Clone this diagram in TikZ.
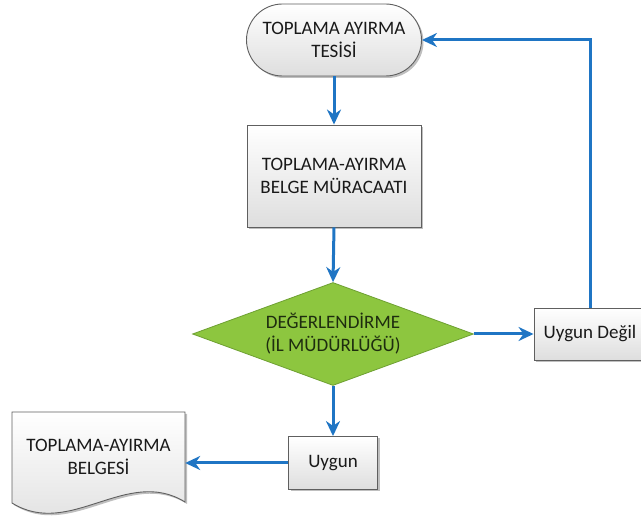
\documentclass[tikz,border=0pt]{standalone}
\usepackage{fontspec}
\setmainfont{Carlito}
\usetikzlibrary{shapes.geometric,shadows,arrows.meta}
\definecolor{flowblue}{RGB}{31,117,196}
\definecolor{dgreen}{RGB}{141,198,63}
\definecolor{dgreenline}{RGB}{110,160,50}
\definecolor{txt}{RGB}{25,25,25}
\definecolor{gtxt}{RGB}{30,45,15}
\definecolor{edge}{RGB}{95,95,95}
\tikzset{
 lbl/.style={align=center, text=txt, font=\fontsize{19}{23}\selectfont, inner sep=0pt},
 box/.style={lbl, draw=edge, line width=0.9pt, top color=white, bottom color=black!13,
   drop shadow={shadow xshift=2pt, shadow yshift=-2pt, fill=black, opacity=0.25}},
 docshape/.style={draw=edge, line width=0.9pt, top color=white, bottom color=black!13,
   drop shadow={shadow xshift=2pt, shadow yshift=-2pt, fill=black, opacity=0.25}},
 flow/.style={draw=flowblue, line width=3pt, -{Stealth[length=15pt,width=14pt]}},
}
\begin{document}
\begin{tikzpicture}[x=1pt,y=-1pt]
\useasboundingbox (0,0) rectangle (641,521);
\node[box, rounded corners=36pt, minimum width=175pt, minimum height=72pt] (term) at (334,40) {TOPLAMA AYIRMA\\TESİSİ};
\node[box, minimum width=174pt, minimum height=102pt] (app) at (334,176) {TOPLAMA-AYIRMA\\BELGE MÜRACAATI};
\node[diamond, aspect=2.73, draw=dgreenline, line width=0.8pt, fill=dgreen, minimum width=281pt, minimum height=103pt,
  inner sep=0pt, align=center, text=gtxt, font=\fontsize{19}{23}\selectfont] (eval) at (333,334) {DEĞERLENDİRME\\(İL MÜDÜRLÜĞÜ)};
\node[box, minimum width=112pt, minimum height=52pt] (no) at (590,334) {Uygun Değil};
\node[box, minimum width=89pt, minimum height=53pt] (yes) at (333,463) {Uygun};
\path[docshape] (12,412) -- (185,412) -- (185,502) .. controls (127,466) and (70,539) .. (12,503) -- cycle;
\node[lbl, minimum width=173pt, minimum height=90pt] (doc) at (98.5,457) {TOPLAMA-AYIRMA\\BELGESİ};
\draw[flow] (term.south) -- (app.north);
\draw[flow] (app.south) -- (eval.north);
\draw[flow] (eval.east) -- (no.west);
\draw[flow] (eval.south) -- (yes.north);
\draw[flow] (yes.west) -- (yes.west -| doc.east);
\draw[flow] (no.north) |- (term.east);
\end{tikzpicture}
\end{document}
